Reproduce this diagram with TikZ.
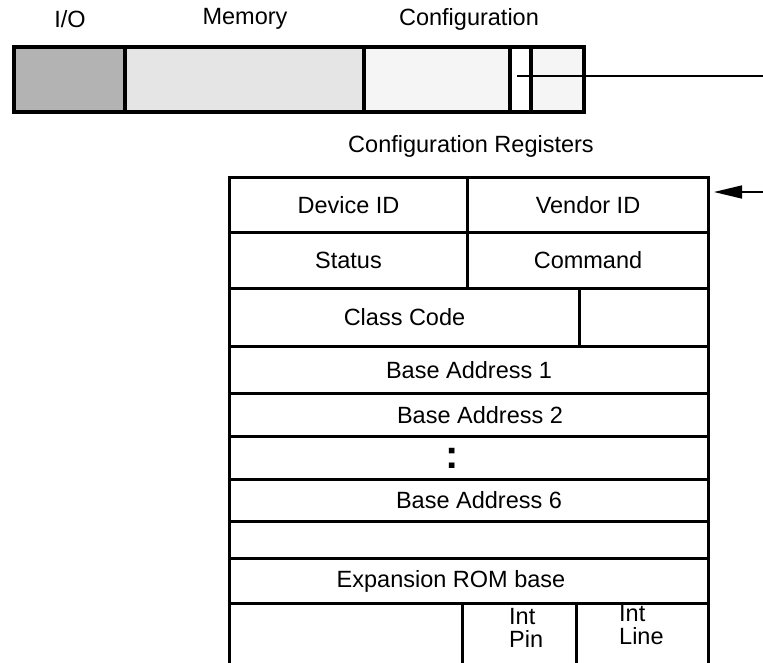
\documentclass[tikz,border=0pt]{standalone}
\usepackage{fontspec}
\setmainfont{Liberation Sans}
\usetikzlibrary{arrows.meta, positioning}
\definecolor{iogray}{HTML}{B3B3B3}
\definecolor{memgray}{HTML}{E5E5E5}
\definecolor{cfggray}{HTML}{F5F5F5}

\begin{document}
\begin{tikzpicture}[
  x=1pt, y=-1pt,
  seg/.style={
    rectangle,
    draw,
    line width=3.5pt,
    minimum height=65,
    inner sep=0,
    anchor=north west
  },
  reg/.style={
    rectangle,
    draw,
    line width=3pt,
    inner sep=0,
    anchor=north west,
    font=\fontsize{23.5}{23}\selectfont
  },
  caption/.style={font=\fontsize{23.5}{23}\selectfont},
  link/.style={line width=1.5pt},
  arrow/.style={-{Triangle[length=28pt,width=13pt]}, line width=1.5pt}
]
  \useasboundingbox (0,0) rectangle (763,662);
  \clip (0,0) rectangle (763,662);

  % Address spaces
  \node[caption] (iolbl) at (70,19) {I/O};
  \node[caption] (memlbl) at (245,19) {Memory};
  \node[caption] (cfglbl) at (469,19) {Configuration};

  \node[seg, fill=iogray, minimum width=111] (io) at (12,45) {};
  \node[seg, fill=memgray, minimum width=239] (mem) at (123,45) {};
  \node[seg, fill=cfggray, minimum width=146] (cfg) at (362,45) {};
  \node[seg, fill=white, minimum width=21] (slot) at (508,45) {};
  \node[seg, fill=cfggray, minimum width=53] (rest) at (529,45) {};

  % Configuration registers
  \node[caption] (reglbl) at (471,146) {Configuration Registers};

  \node[reg, minimum width=238, minimum height=55] (devid) at (228,176) {Device ID};
  \node[reg, minimum width=241, minimum height=55] (vendid) at (466,176) {Vendor ID};
  \node[reg, minimum width=238, minimum height=56] (status) at (228,231) {Status};
  \node[reg, minimum width=241, minimum height=56] (command) at (466,231) {Command};
  \node[reg, minimum width=350, minimum height=58] (class) at (228,287) {Class Code};
  \node[reg, minimum width=129, minimum height=58] (revid) at (578,287) {};
  \node[reg, minimum width=479, minimum height=47] (bar1) at (228,345) {Base Address 1};
  \node[reg, minimum width=479, minimum height=43] (bar2) at (228,392) {\hspace*{22pt}Base Address 2};
  \node[reg, minimum width=479, minimum height=43] (dots) at (228,435) {\hspace*{-34pt}\fontsize{40}{40}\selectfont\textbf{:}};
  \node[reg, minimum width=479, minimum height=42] (bar6) at (228,478) {\hspace*{20pt}Base Address 6};
  \node[reg, minimum width=479, minimum height=37] (cardbus) at (228,520) {};
  \node[reg, minimum width=479, minimum height=45] (rombase) at (228,557) {\hspace*{-36pt}Expansion ROM base};
  \node[reg, minimum width=233, minimum height=80] (misc) at (228,602) {};
  \node[reg, minimum width=114, minimum height=80] (intpin) at (461,602) {};
  \node[reg, minimum width=132, minimum height=80] (intline) at (575,602) {};
  \node[caption, align=left, anchor=north west, inner sep=0] (pintxt) at (509,608) {Int\\Pin};
  \node[caption, align=left, anchor=north west, inner sep=0] (linetxt) at (619,605) {Int\\Line};

  % Link
  \coordinate (cfgout) at (763,76);
  \coordinate (cfgin) at (763,192);
  \draw[link] ([xshift=-3pt]slot.center |- cfgout) -- (cfgout);
  \draw[arrow, shorten >=4pt] (cfgin) -- (vendid.east |- cfgin);
\end{tikzpicture}
\end{document}
